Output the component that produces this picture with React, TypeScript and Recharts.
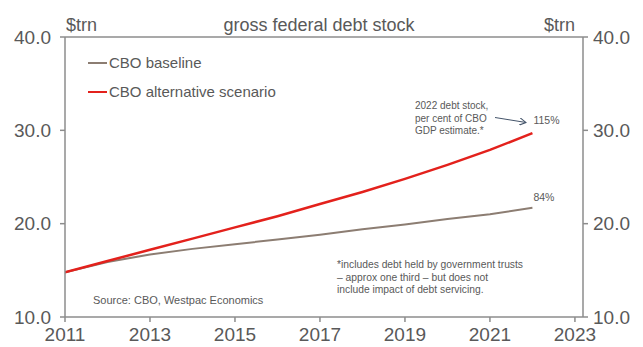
import {
  LineChart,
  Line,
  XAxis,
  YAxis,
  Legend,
  ReferenceLine,
  Customized,
} from "recharts";

const years = [2011, 2012, 2013, 2014, 2015, 2016, 2017, 2018, 2019, 2020, 2021, 2022];
const baseline = [14.8, 15.9, 16.7, 17.3, 17.8, 18.3, 18.8, 19.4, 19.9, 20.5, 21.0, 21.7];
const alternative = [14.8, 16.0, 17.2, 18.4, 19.6, 20.8, 22.1, 23.4, 24.8, 26.3, 27.9, 29.7];
const endLabels = { baseline: "84%", alternative: "115%" };
const xTicks = [2011, 2013, 2015, 2017, 2019, 2021, 2023];
const yTicks = [10, 20, 30, 40];

const data = years.map((year, i) => ({
  year,
  baseline: baseline[i],
  alternative: alternative[i],
}));

const FONT = "'Liberation Sans', Arial, sans-serif";
const TEXT = "#595959";
const AXIS = "#8c8c8c";
const RED = "#e3211c";
const BROWN = "#8c7d72";

const tickStyle = { fill: TEXT, fontSize: 19, fontFamily: FONT };

const endLabel = (text: string, dy: number) => (props: any) => {
  const { x, y, index } = props;
  if (index !== years.length - 1) return null;
  return (
    <text x={x + 1} y={y + dy} fill={TEXT} fontSize={10.5} fontFamily={FONT}>
      {text}
    </text>
  );
};

const LegendBox = () => (
  <div style={{ fontFamily: FONT, fontSize: 15, color: TEXT, lineHeight: "29px" }}>
    {[
      { name: "CBO baseline", color: BROWN },
      { name: "CBO alternative scenario", color: RED },
    ].map((item) => (
      <div key={item.name} style={{ display: "flex", alignItems: "center" }}>
        <span style={{ width: 19, height: 2, background: item.color, marginRight: 2 }} />
        {item.name}
      </div>
    ))}
  </div>
);

const Notes = () => (
  <g fontFamily={FONT} fill={TEXT}>
    <text x={66} y={31} fontSize={18}>$trn</text>
    <text x={319} y={31} fontSize={18} textAnchor="middle">gross federal debt stock</text>
    <text x={575} y={31} fontSize={18} textAnchor="end">$trn</text>
    <text fontSize={10} x={415}>
      <tspan x={415} y={109}>2022 debt stock,</tspan>
      <tspan x={415} y={121.5}>per cent of CBO</tspan>
      <tspan x={415} y={134}>GDP estimate.*</tspan>
    </text>
    <defs>
      <marker id="arr" markerWidth="8" markerHeight="8" refX="7" refY="4" orient="auto">
        <path d="M0,0 L7,4 L0,8" fill="none" stroke="#44546a" strokeWidth="1" />
      </marker>
    </defs>
    <line x1={495} y1={117.5} x2={526} y2={122.5} stroke="#44546a" strokeWidth={1} markerEnd="url(#arr)" />
    <text fontSize={10.3} x={337}>
      <tspan x={337} y={268}>*includes debt held by government trusts</tspan>
      <tspan x={337} y={280.5}>– approx one third – but does not</tspan>
      <tspan x={337} y={293}>include impact of debt servicing.</tspan>
    </text>
    <text x={93} y={304} fontSize={11}>Source: CBO, Westpac Economics</text>
  </g>
);

export default function App() {
  return (
    <div style={{ position: "absolute", left: 0, top: 0, background: "#fff" }}>
      <LineChart
        width={643}
        height={347}
        data={data}
        margin={{ top: 37, right: 5, bottom: 0, left: 5 }}
      >
        <XAxis
          dataKey="year"
          type="number"
          domain={[2011, 2023.19]}
          ticks={xTicks}
          allowDataOverflow
          height={30}
          tick={tickStyle}
          tickSize={5}
          tickMargin={6}
          stroke={AXIS}
          strokeWidth={1.5}
        />
        <YAxis
          yAxisId="left"
          domain={[10, 40]}
          ticks={yTicks}
          allowDataOverflow
          width={60}
          tick={tickStyle}
          tickSize={5}
          tickMargin={9}
          tickFormatter={(v: number) => v.toFixed(1)}
          stroke={AXIS}
          strokeWidth={1.5}
        />
        <YAxis
          yAxisId="right"
          orientation="right"
          domain={[10, 40]}
          ticks={yTicks}
          allowDataOverflow
          width={55}
          tick={tickStyle}
          tickSize={5}
          tickMargin={5}
          tickFormatter={(v: number) => v.toFixed(1)}
          stroke={AXIS}
          strokeWidth={1.5}
        />
        <ReferenceLine yAxisId="left" y={40} stroke={AXIS} strokeWidth={1.5} />
        <Legend
          layout="vertical"
          align="center"
          verticalAlign="middle"
          content={<LegendBox />}
          wrapperStyle={{ left: 88, top: 48, width: 260, height: 60 }}
        />
        <Line
          yAxisId="right"
          dataKey="baseline"
          stroke="none"
          dot={false}
          activeDot={false}
          legendType="none"
          isAnimationActive={false}
        />
        <Line
          yAxisId="left"
          dataKey="baseline"
          stroke={BROWN}
          strokeWidth={2}
          dot={false}
          isAnimationActive={false}
          label={endLabel(endLabels.baseline, -7)}
        />
        <Line
          yAxisId="left"
          dataKey="alternative"
          stroke={RED}
          strokeWidth={2.5}
          dot={false}
          isAnimationActive={false}
          label={endLabel(endLabels.alternative, -9)}
        />
        <Customized component={<Notes />} />
      </LineChart>
    </div>
  );
}
